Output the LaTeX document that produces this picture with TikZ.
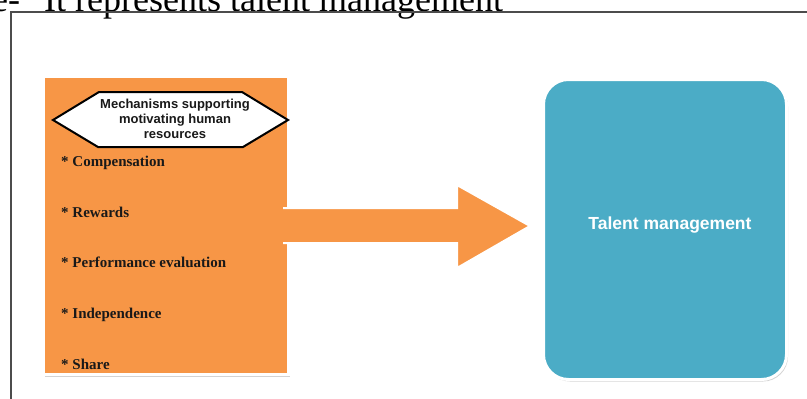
\documentclass[tikz,border=0pt]{standalone}
\usepackage{fontspec}
\setmainfont{Liberation Serif}
\setsansfont{Liberation Sans}
\usetikzlibrary{shadows}
\definecolor{orng}{HTML}{F79646}
\definecolor{aqua}{HTML}{4BACC6}
\begin{document}
\begin{tikzpicture}[x=1pt,y=-1pt,
  item/.style={anchor=base west, font=\fontsize{15}{17}\selectfont\bfseries, inner sep=0pt, text=black!90},
  panel/.style={draw=white, line width=3pt, anchor=north west,
    drop shadow={shadow xshift=1.5pt, shadow yshift=-2pt, opacity=0.35}},
]
\useasboundingbox (0,0) rectangle (807,399);
\clip (0,0) rectangle (807,399);
% title (cut off at top)
\node[anchor=base west, font=\fontsize{36}{40}\selectfont, inner sep=0pt] (title) at (-8,11) {e-\hspace{24pt}It represents talent management};
% outer frame
\draw[line width=2pt, black!70] (11,399) -- (11,12) -- (807,12);
% orange panel
\node[panel, fill=orng, minimum width=245pt, minimum height=298pt] (mech) at (42,75) {};
% hexagon header
\draw[draw=black, fill=white, line width=2pt] (53,120) -- (99,92) -- (242,92) -- (288,120) -- (243,147) -- (98,147) -- cycle;
\node[font=\sffamily\bfseries\fontsize{13}{15}\selectfont, align=center, inner sep=0pt, text=black!90] (hexa) at (175,119) {Mechanisms supporting\\ motivating human\\ resources};
% items
\node[item] (i1) at (61,166) {* Compensation};
\node[item] (i2) at (61,217) {* Rewards};
\node[item] (i3) at (61,267) {* Performance evaluation};
\node[item] (i4) at (61,318) {* Independence};
\node[item] (i5) at (61,369) {* Share};
% teal panel
\node[panel, fill=aqua, rounded corners=25pt, minimum width=243pt, minimum height=300pt] (tm) at (542,78) {};
\node[font=\sffamily\bfseries\fontsize{17.5}{20}\selectfont, text=white, inner sep=0pt] (tmlabel) at (670,225) {Talent management};
% block arrow
\coordinate (a0) at (283,208);
\coordinate (a1) at (457,208);
\coordinate (a2) at (457,185);
\coordinate (tip) at (530,226);
\coordinate (a4) at (457,268);
\coordinate (a5) at (457,243);
\coordinate (a6) at (283,243);
\fill[orng] (a0) -- (a1) -- (a2) -- (tip) -- (a4) -- (a5) -- (a6) -- cycle;
\draw[white, line width=2pt, line join=miter] (a0) -- (a1) -- (a2) -- (tip) -- (a4) -- (a5) -- (a6);
\end{tikzpicture}
\end{document}
